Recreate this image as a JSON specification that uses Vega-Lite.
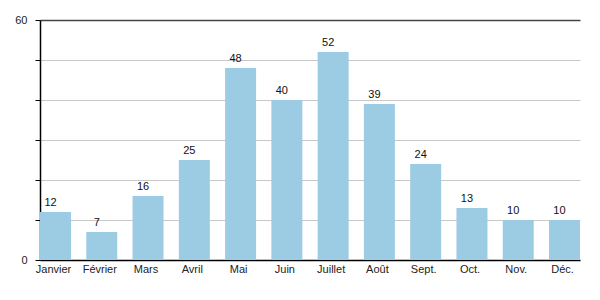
{
  "$schema": "https://vega.github.io/schema/vega-lite/v6.json",
  "width": 540,
  "height": 240,
  "autosize": "none",
  "padding": {"left": 40, "top": 20, "right": 20, "bottom": 40},
  "background": "white",
  "config": {
    "view": {"stroke": null},
    "font": "Liberation Sans",
    "axis": {"labelFont": "Liberation Sans", "labelFontSize": 11, "labelColor": "#222"}
  },
  "data": {
    "values": [
      {"mois": "Janvier", "valeur": 12},
      {"mois": "Février", "valeur": 7},
      {"mois": "Mars", "valeur": 16},
      {"mois": "Avril", "valeur": 25},
      {"mois": "Mai", "valeur": 48},
      {"mois": "Juin", "valeur": 40},
      {"mois": "Juillet", "valeur": 52},
      {"mois": "Août", "valeur": 39},
      {"mois": "Sept.", "valeur": 24},
      {"mois": "Oct.", "valeur": 13},
      {"mois": "Nov.", "valeur": 10},
      {"mois": "Déc.", "valeur": 10}
    ]
  },
  "encoding": {
    "x": {
      "field": "mois",
      "type": "nominal",
      "sort": null,
      "scale": {"paddingInner": 0.33, "paddingOuter": 0, "align": 0},
      "axis": {
        "title": null,
        "labelAngle": 0,
        "ticks": false,
        "domainColor": "#000",
        "domainWidth": 1.5,
        "labelPadding": 3,
        "labelOffset": -2,
        "grid": false
      }
    },
    "y": {
      "field": "valeur",
      "type": "quantitative",
      "scale": {"domain": [0, 60], "nice": false},
      "axis": {
        "title": null,
        "values": [0, 10, 20, 30, 40, 50, 60],
        "labelExpr": "datum.value == 0 || datum.value == 60 ? datum.label : ''",
        "tickSize": 5,
        "tickColor": "#000",
        "domainColor": "#000",
        "domainWidth": 1.5,
        "labelPadding": 8,
        "grid": true,
        "gridColor": {"condition": {"test": "datum.value == 60", "value": "#444"}, "value": "#c8c8c8"},
        "gridWidth": {"condition": {"test": "datum.value == 60", "value": 1.5}, "value": 1}
      }
    }
  },
  "layer": [
    {"mark": {"type": "bar", "color": "#9ccbe4"}},
    {
      "mark": {"type": "text", "baseline": "bottom", "dy": -4, "dx": -5, "fontSize": 11, "color": "#111", "font": "Liberation Sans"},
      "encoding": {"text": {"field": "valeur", "type": "quantitative"}}
    }
  ]
}
